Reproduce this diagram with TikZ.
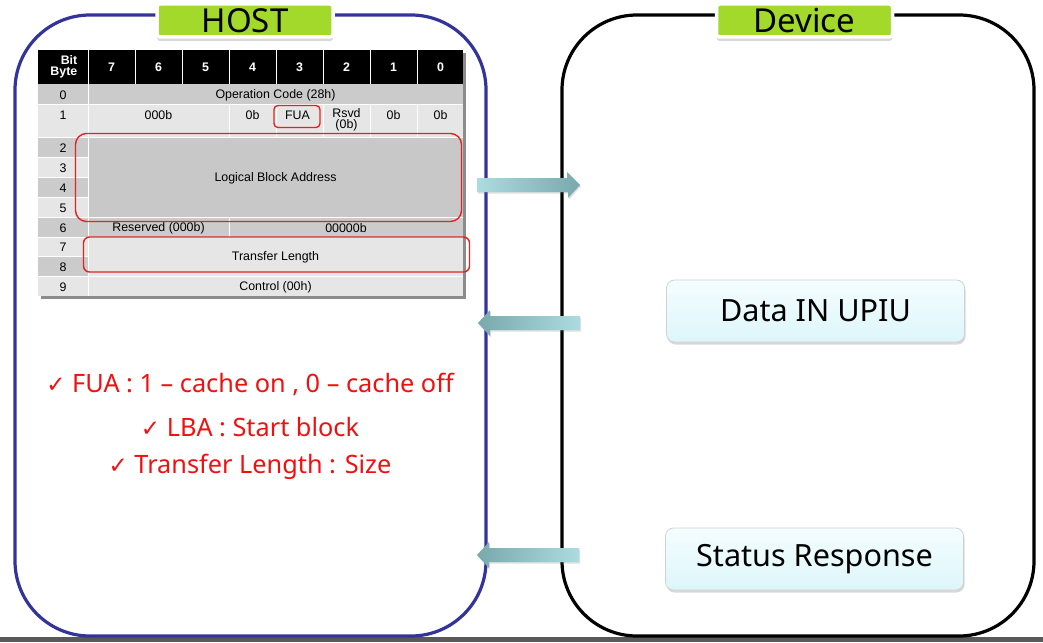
\documentclass[tikz,border=0pt]{standalone}
\usepackage{fontspec}
\setmainfont{Noto Sans}
\newfontfamily\tabfont{Liberation Sans}
\newfontfamily\symfont{DejaVu Sans}
\usetikzlibrary{shadows}
\definecolor{hostblue}{HTML}{333399}
\definecolor{lblgreen}{HTML}{A2D92A}
\definecolor{rowdark}{HTML}{CBCBCB}
\definecolor{rowlight}{HTML}{E6E6E6}
\definecolor{lbagray}{HTML}{C8C8C8}
\definecolor{redline}{HTML}{E02424}
\definecolor{txtred}{HTML}{F01010}
\definecolor{arrlight}{HTML}{ACDCDF}
\definecolor{arrdark}{HTML}{78A9AD}
\definecolor{boxtop}{HTML}{F4FDFF}
\definecolor{boxbot}{HTML}{DDF6FA}
\tikzset{
  panel/.style={line width=3.2pt, rounded corners=75pt},
  lbl/.style={fill=lblgreen, rounded corners=3pt, draw=white, line width=3.5pt,
    drop shadow={shadow xshift=0pt, shadow yshift=-4pt, opacity=0.3},
    minimum width=176pt, minimum height=33pt, inner sep=0pt,
    font=\fontsize{33}{33}\selectfont},
  tcell/.style={font=\tabfont\fontsize{12.4}{13}\selectfont, inner sep=0pt, anchor=center},
  thead/.style={font=\tabfont\bfseries\fontsize{12.4}{13}\selectfont, text=white, inner sep=0pt},
  redbox/.style={draw=redline, line width=1.4pt},
  msgbox/.style={draw=black!18, line width=0.8pt, rounded corners=8pt,
    top color=boxtop, bottom color=boxbot,
    drop shadow={shadow xshift=1pt, shadow yshift=-2.5pt, opacity=0.3},
    minimum width=298pt, minimum height=62pt, inner sep=0pt,
    font=\fontsize{30.6}{31}\selectfont},
  note/.style={text=txtred, font=\fontsize{25.3}{26}\selectfont, inner sep=0pt},
  arr/.style={draw=none, drop shadow={shadow xshift=1pt, shadow yshift=-1.5pt, opacity=0.25}}
}
\newcommand{\ck}{{\symfont\fontsize{23}{23}\selectfont ✓}}
\begin{document}
\begin{tikzpicture}[x=1pt, y=-1pt]
\useasboundingbox (0,0) rectangle (1043,642);
\fill[white] (0,0) rectangle (1043,642);
\fill[black!65] (0,637) rectangle (1043,642);
% panels
\draw[panel, draw=hostblue] (15,15) rectangle (486,636);
\draw[panel, draw=black] (562,15) rectangle (1034,636);
\node[lbl] (host) at (245,20.5) {HOST};
\node[lbl] (device) at (804.5,20.5) {Device};
% table shadow
\fill[black!45] (41,53) rectangle (465.5,298.5);
% header
\fill[black] (38,50) rectangle (463,84);
\foreach \xx in {88,135,182,229,276,323,370,417}
  \draw[white, line width=0.8pt] (\xx,50) -- (\xx,84);
\node[thead, align=right, anchor=east] (hb) at (77.5,67) {Bit\\[-1.5pt]Byte};
\foreach \b [count=\i from 0] in {7,6,5,4,3,2,1,0}
  \node[thead] (h\b) at (111.5+47*\i,67) {\b};
% rows
\fill[rowdark] (38,84) rectangle (463,104);
\fill[rowlight] (38,104) rectangle (463,137);
\fill[rowdark] (38,137) rectangle (88,157);
\fill[rowlight] (38,157) rectangle (88,177);
\fill[rowdark] (38,177) rectangle (88,197);
\fill[rowlight] (38,197) rectangle (88,217);
\fill[lbagray] (88,137) rectangle (463,217);
\fill[rowdark] (38,217) rectangle (463,237);
\fill[rowlight] (38,237) rectangle (463,276);
\fill[rowdark] (38,256) rectangle (88,276);
\fill[rowlight] (38,276) rectangle (463,296);
\foreach \yy in {104,137,217,237,276}
  \draw[white, line width=0.6pt] (38,\yy) -- (463,\yy);
\foreach \yy in {157,177,197,256}
  \draw[white, line width=0.6pt] (38,\yy) -- (88,\yy);
\draw[white, line width=0.6pt] (88,84) -- (88,296);
\foreach \xx in {229,276,323,370,417}
  \draw[white, line width=0.6pt] (\xx,104) -- (\xx,137);
\draw[white, line width=0.6pt] (229,217) -- (229,237);
% byte numbers
\foreach \n/\yy in {0/95,1/115,2/148,3/168,4/188,5/208,6/228,7/247.5,8/267,9/287}
  \node[tcell] (b\n) at (63,\yy) {\n};
\node[tcell] (opc) at (275.5,95) {Operation Code (28h)};
\node[tcell] (r1a) at (158.5,115) {000b};
\node[tcell] (r1b) at (252.5,115) {0b};
\node[tcell] (fua) at (297.5,115) {FUA};
\node[tcell, align=center, anchor=north] (rsvd) at (346.5,108) {Rsvd\\[-2pt](0b)};
\node[tcell] (r1c) at (393.5,115) {0b};
\node[tcell] (r1d) at (440.5,115) {0b};
\node[tcell] (lba) at (275.5,178) {Logical Block Address};
\node[tcell] (resv) at (158.5,228) {Reserved (000b)};
\node[tcell] (zero) at (346,228) {00000b};
\node[tcell] (tl) at (275.5,257.5) {Transfer Length};
\node[tcell] (ctl) at (275.5,287) {Control (00h)};
% red highlight boxes
\draw[redbox, rounded corners=4pt] (274,105.5) rectangle (320,127.5);
\draw[redbox, rounded corners=11pt] (75.5,133.5) rectangle (461.5,221.5);
\draw[redbox, rounded corners=6pt] (83.5,237) rectangle (469.5,272);
% notes
\node[note] (n1) at (250,384) {\ck\ FUA : 1 – cache on , 0 – cache off};
\node[note] (n2) at (250,427) {\ck\ LBA : Start block};
\node[note] (n3) at (250,467) {\ck\ Transfer Length : Size};
% device messages
\node[msgbox] (data) at (815.5,311) {Data IN UPIU};
\node[msgbox] (status) at (814.5,559) {Status Response};
% block arrows
\coordinate (a1s) at (477,185);
\coordinate (a1e) at (580,185);
\shade[arr, left color=arrlight, right color=arrdark]
  (a1s) ++(0,-7) -- ++(90,0) -- ++(0,-6) -- (a1e) -- ++(-12,13) -- ++(0,-6) -- ++(-91,0) -- cycle;
\coordinate (a2s) at (580,323);
\coordinate (a2e) at (478,323);
\shade[arr, left color=arrdark, right color=arrlight]
  (a2s) ++(0,-7) -- ++(-90,0) -- ++(0,-6) -- (a2e) -- ++(12,13) -- ++(0,-6) -- ++(90,0) -- cycle;
\coordinate (a3s) at (579,555);
\coordinate (a3e) at (477,555);
\shade[arr, left color=arrdark, right color=arrlight]
  (a3s) ++(0,-7) -- ++(-90,0) -- ++(0,-6) -- (a3e) -- ++(12,13) -- ++(0,-6) -- ++(90,0) -- cycle;
\end{tikzpicture}
\end{document}
